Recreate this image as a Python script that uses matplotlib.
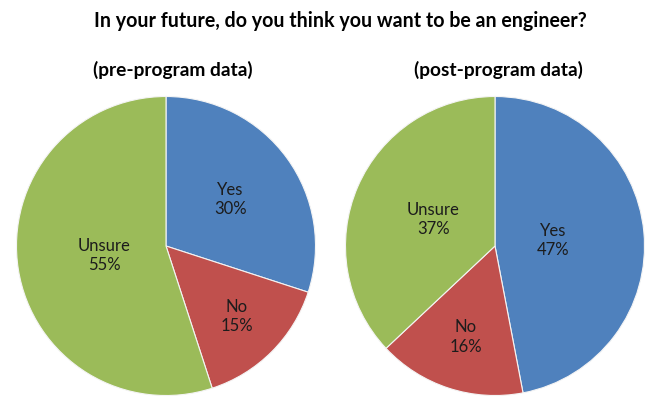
import numpy as np
import matplotlib
matplotlib.use('Agg')
import matplotlib.pyplot as plt

plt.rcParams['font.family'] = ['Lato', 'DejaVu Sans']

# survey answers, in percent
categories = ['Yes', 'No', 'Unsure']
pre_values = [30, 15, 55]
post_values = [47, 16, 37]
colors = ['#4F81BD', '#C0504D', '#9BBB59']

W, H = 648, 399
fig = plt.figure(figsize=(W/100., H/100.), dpi=100)
fig.patch.set_facecolor('white')

def px_axes(cx, cy, r):
    # axes in pixel coords (origin top-left), square around the pie
    return fig.add_axes([(cx-r)/W, (H-cy-r)/H, 2*r/W, 2*r/H])

def draw_pie(ax, vals, lab_r):
    wedges, _ = ax.pie(vals, colors=colors, startangle=90, counterclock=False,
                       radius=1, wedgeprops=dict(edgecolor='#f4f4f4', linewidth=0.8))
    for w, cat, v, rr in zip(wedges, categories, vals, lab_r):
        th = np.deg2rad((w.theta1+w.theta2)/2.)
        ax.text(rr*np.cos(th), rr*np.sin(th), '%s\n%d%%' % (cat, v),
                ha='center', va='center', fontsize=12, color='#1c1c1c',
                linespacing=1.25)
    ax.set_xlim(-1.01, 1.01)
    ax.set_ylim(-1.01, 1.01)
    ax.set_aspect('equal')
    ax.axis('off')

ax1 = px_axes(166, 246, 151)
draw_pie(ax1, pre_values, [0.53, 0.67, 0.42])

ax2 = px_axes(495, 246, 151)
draw_pie(ax2, post_values, [0.39, 0.64, 0.45])

fig.text(340/W, 1-21/H, 'In your future, do you think you want to be an engineer?',
         ha='center', va='center', fontsize=14.1, fontweight='bold')
fig.text(173/W, 1-70/H, '(pre-program data)', ha='center', va='center',
         fontsize=13.8, fontweight='bold')
fig.text(498/W, 1-70/H, '(post-program data)', ha='center', va='center',
         fontsize=13.8, fontweight='bold')

plt.savefig('out.png', dpi=100, facecolor='white')
plt.close(fig)
